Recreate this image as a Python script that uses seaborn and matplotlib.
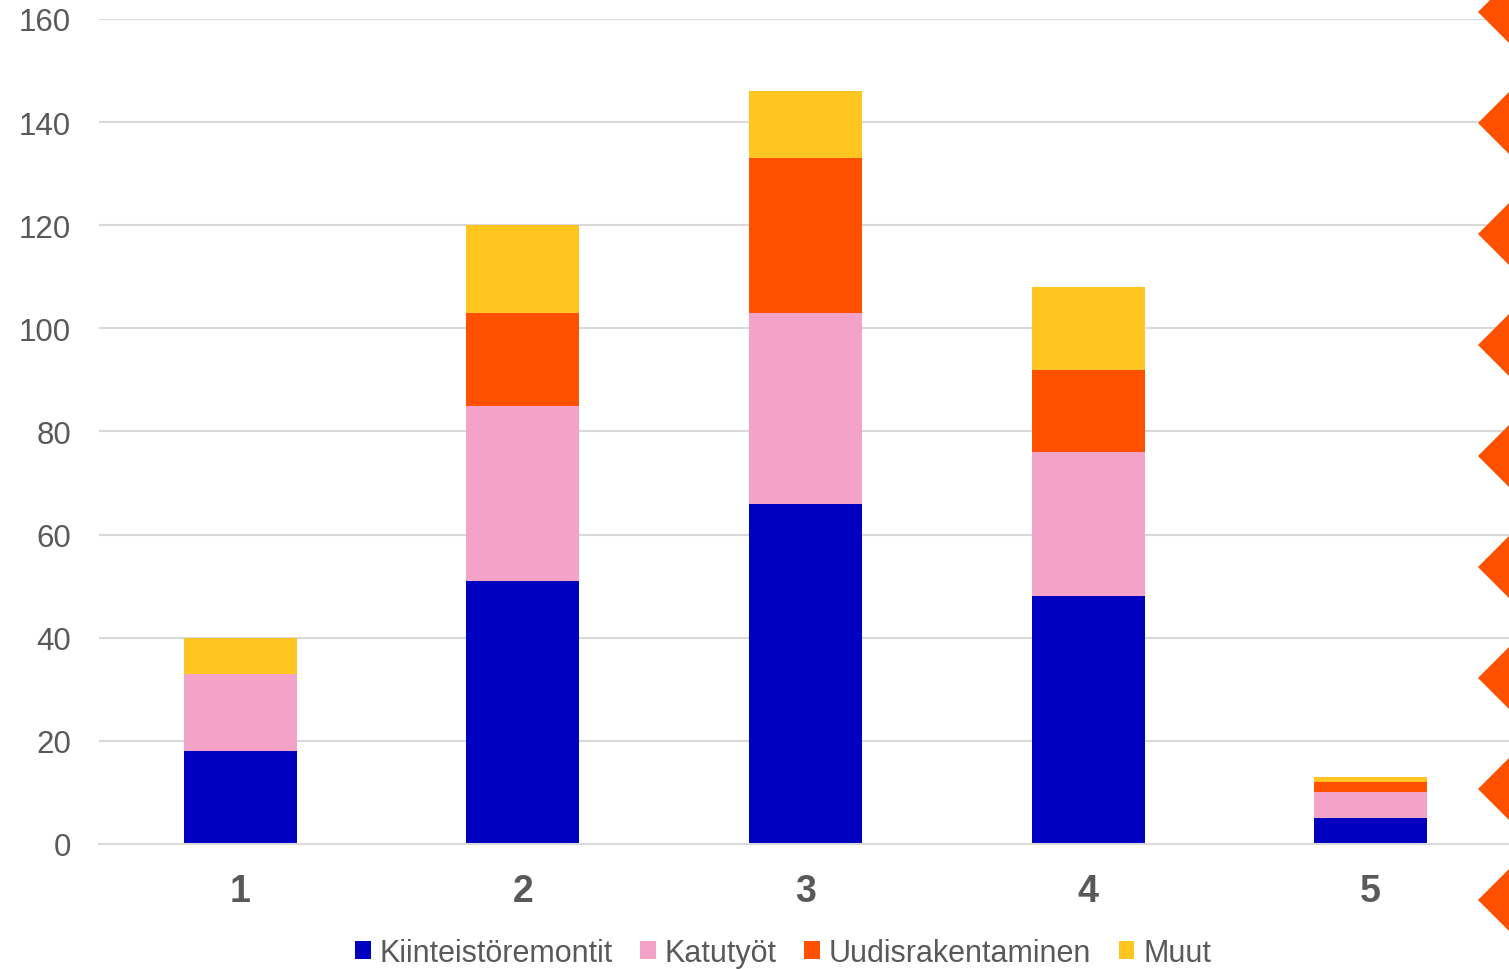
import numpy as np
import pandas as pd
import matplotlib.pyplot as plt
from matplotlib.patches import Patch, Polygon
import seaborn as sns

# Data
categories = ['1', '2', '3', '4', '5']
kiinteisto = [18, 51, 66, 48, 5]
katutyot = [15, 34, 37, 28, 5]
uudisrakentaminen = [0, 18, 30, 16, 2]
muut = [7, 17, 13, 16, 1]

series_names = ['Kiinteistöremontit', 'Katutyöt', 'Uudisrakentaminen', 'Muut']
series_colors = ['#0000C0', '#F4A3C8', '#FF5000', '#FFC520']
y_ticks = [0, 20, 40, 60, 80, 100, 120, 140, 160]

sns.set_theme(style='white')
plt.rcParams['font.family'] = ['Liberation Sans', 'DejaVu Sans']

df = pd.DataFrame({'cat': categories,
                   series_names[0]: kiinteisto,
                   series_names[1]: katutyot,
                   series_names[2]: uudisrakentaminen,
                   series_names[3]: muut})
cum = df[series_names].cumsum(axis=1)

fig = plt.figure(figsize=(15.09, 9.70), dpi=100)
ax = fig.add_axes([0.0656, 0.1289, 0.9364, 0.8505])

# stacked bars: draw cumulative totals from the top layer down
for i in range(len(series_names) - 1, -1, -1):
    sns.barplot(x=df['cat'], y=cum[series_names[i]], color=series_colors[i],
                width=0.4, saturation=1, ax=ax, zorder=3 + (3 - i),
                edgecolor='none', linewidth=0)

ax.set_xlim(-0.5, 4.5)
ax.set_ylim(0, 160)
ax.set_yticks(y_ticks)
ax.set_xlabel('')
ax.set_ylabel('')
ax.grid(axis='y', color='#d9d9d9', linewidth=1.5, zorder=0)
ax.set_axisbelow(True)
for s in ['top', 'right', 'left']:
    ax.spines[s].set_visible(False)
ax.spines['bottom'].set_color('#d9d9d9')
ax.spines['bottom'].set_linewidth(1.5)
ax.spines['bottom'].set_zorder(10)
ax.tick_params(axis='y', length=0, pad=20, labelsize=22.5, labelcolor='#595959')
ax.tick_params(axis='x', length=0, pad=21, labelsize=27, labelcolor='#595959')
for lbl in ax.get_xticklabels():
    lbl.set_fontweight('bold')

handles = [Patch(facecolor=c, edgecolor='none') for c in series_colors]
fig.legend(handles, series_names, loc='center', bbox_to_anchor=(0.519, 0.0165),
           ncol=4, frameon=False, fontsize=22, labelcolor='#595959',
           handlelength=0.5, handleheight=0.5, handletextpad=0.3,
           columnspacing=0.9, borderpad=0)

# decorative orange wedges along the right edge
W, H = 1509, 970
for k in range(9):
    cy = 13 + k * 111
    pts = [(1478 / W, 1 - cy / H), (1.0, 1 - (cy - 31) / H), (1.0, 1 - (cy + 31) / H)]
    fig.patches.append(Polygon(pts, closed=True, transform=fig.transFigure,
                               facecolor='#FF5000', edgecolor='none', zorder=20))

fig.savefig('out.png', dpi=100)
